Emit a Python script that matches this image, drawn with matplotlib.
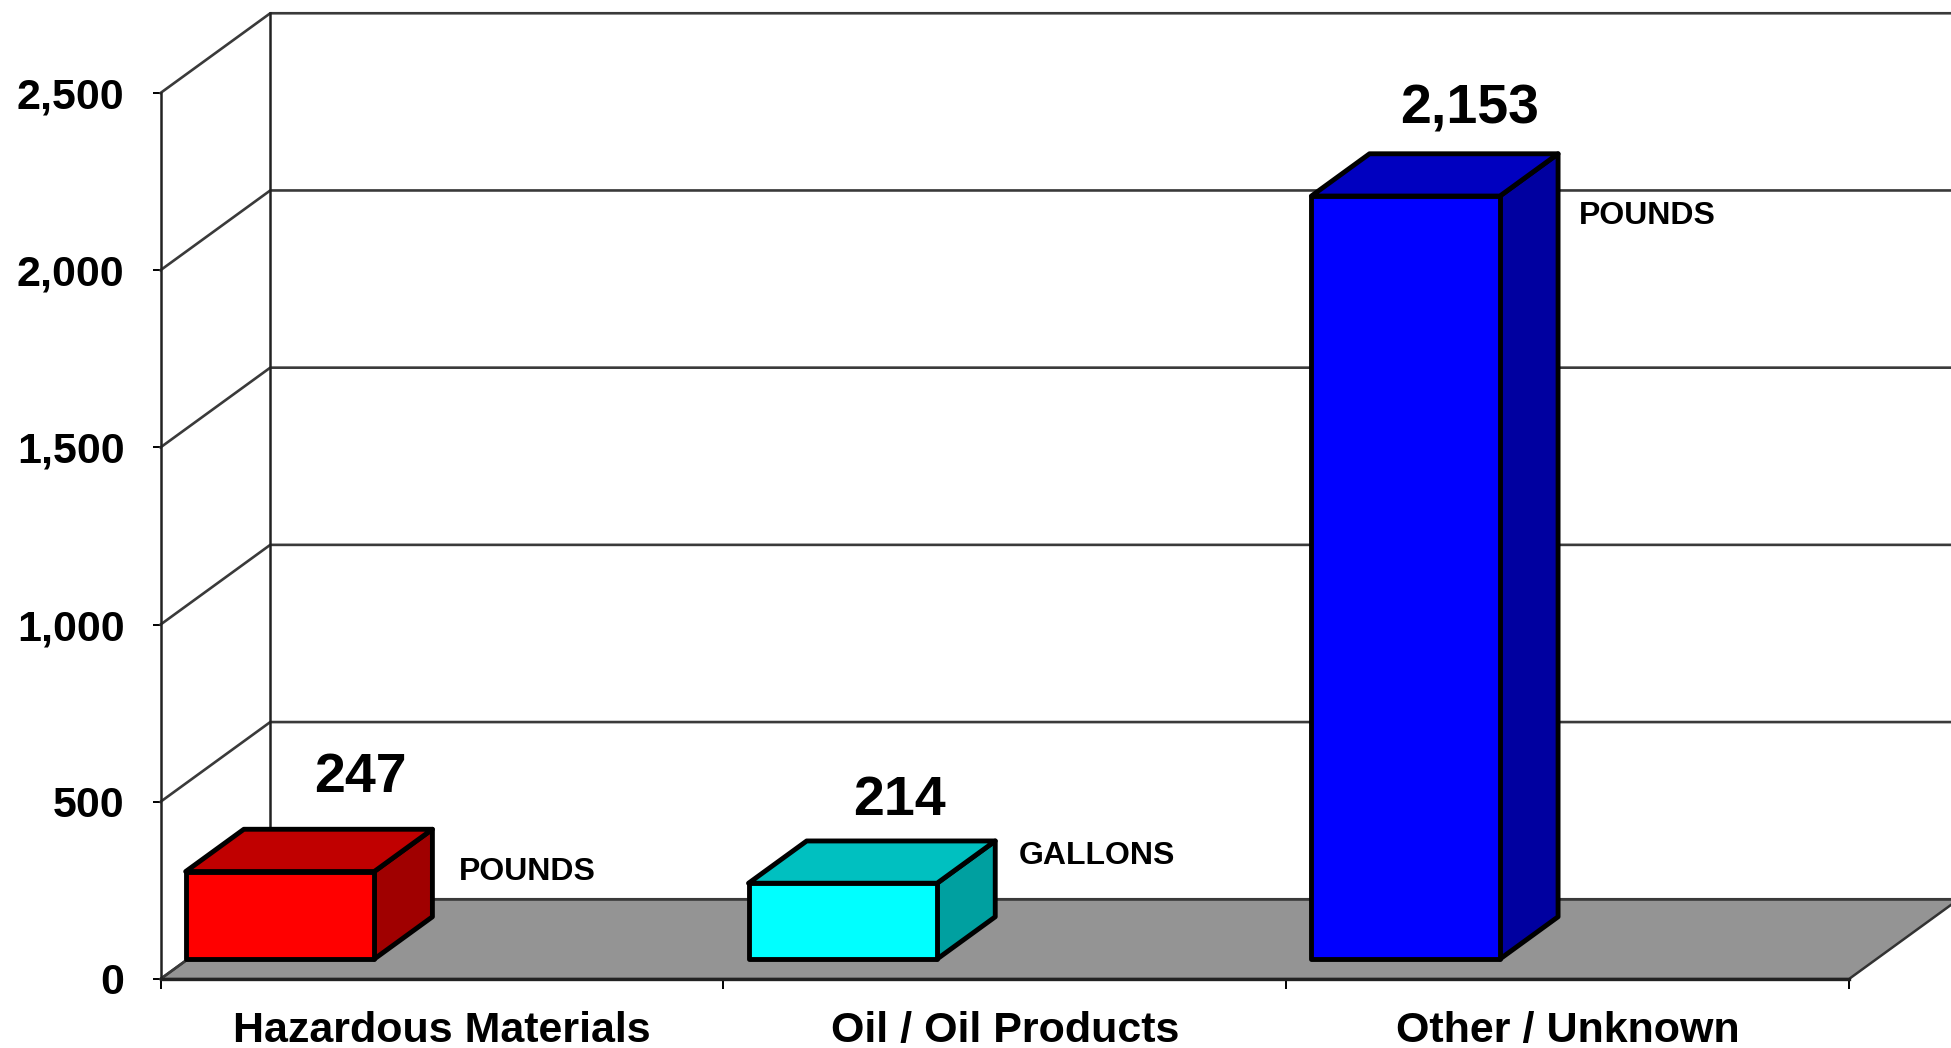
import matplotlib.pyplot as plt
from matplotlib.patches import Polygon

plt.rcParams['font.family'] = ['Liberation Sans', 'DejaVu Sans']
plt.rcParams['font.weight'] = 'bold'

categories = ['Hazardous Materials', 'Oil / Oil Products', 'Other / Unknown']
values = [247, 214, 2153]
value_labels = ['247', '214', '2,153']
units = ['POUNDS', 'GALLONS', 'POUNDS']
y_ticks = [0, 500, 1000, 1500, 2000, 2500]
y_tick_labels = ['0', '500', '1,000', '1,500', '2,000', '2,500']

front_colors = ['#ff0000', '#00ffff', '#0000ff']
top_colors = ['#c00000', '#00c0c0', '#0000c0']
side_colors = ['#a00000', '#00a0a0', '#0000a0']

# fake 3d: how far the back wall sits from the front plane, in data units
depth_x = 0.195
depth_y = 225
bar_shift = -0.004
bar_width = 0.335
bar_front = 0.25
bar_back = 0.78

# label offsets in points from the back top right corner of each bar
value_offsets = [(-52, 37), (-69, 29), (-64, 32)]
unit_offsets = [(19, -31), (17, -11), (15, -45)]


def proj(x, y, depth):
    return (x + depth * depth_x, y + depth * depth_y)


fig = plt.figure(figsize=(19.51, 10.48), dpi=100, facecolor='white')
ax = fig.add_axes([160.5 / 1951, 69 / 1048, 1688.5 / 1951, 886 / 1048])
ax.set_xlim(0, 3)
ax.set_ylim(0, 2500)
ax.patch.set_visible(False)
for name in ['top', 'right']:
    ax.spines[name].set_visible(False)
ax.spines['left'].set_linewidth(1.8)
ax.spines['bottom'].set_linewidth(2.4)
ax.spines['left'].set_color('#222222')
ax.spines['bottom'].set_color('#222222')

ax.set_yticks(y_ticks)
ax.set_yticklabels(y_tick_labels, fontsize=31, fontweight='bold')
ax.tick_params(axis='y', length=6, width=1.4, pad=20)
ax.set_xticks([0, 1, 2, 3])
ax.set_xticklabels([])
ax.tick_params(axis='x', length=7, width=1.4)
ax.set_xticks([0.5, 1.5, 2.5], minor=True)
ax.set_xticklabels(categories, minor=True, fontsize=31, fontweight='bold')
ax.tick_params(axis='x', which='minor', length=0, pad=23)

# floor
floor = [proj(0, 0, 0), proj(3, 0, 0), proj(3, 0, 1), proj(0, 0, 1)]
ax.add_patch(Polygon(floor, closed=True, facecolor='#949494', edgecolor='#333333',
                     linewidth=1.8, clip_on=False, zorder=1))

# walls
for tick in y_ticks:
    a = proj(0, tick, 0)
    b = proj(0, tick, 1)
    c = proj(3, tick, 1)
    ax.plot([a[0], b[0], c[0]], [a[1], b[1], c[1]], color='#3a3a3a', linewidth=1.9,
            clip_on=False, zorder=2)
back_bottom = proj(0, 0, 1)
back_top = proj(0, 2500, 1)
ax.plot([back_bottom[0], back_top[0]], [back_bottom[1], back_top[1]], color='#222222',
        linewidth=1.8, clip_on=False, zorder=2)

# bars
for i, val in enumerate(values):
    left = i + bar_shift
    right = left + bar_width
    front = [proj(left, 0, bar_front), proj(right, 0, bar_front),
             proj(right, val, bar_front), proj(left, val, bar_front)]
    top = [proj(left, val, bar_front), proj(right, val, bar_front),
           proj(right, val, bar_back), proj(left, val, bar_back)]
    side = [proj(right, 0, bar_front), proj(right, 0, bar_back),
            proj(right, val, bar_back), proj(right, val, bar_front)]
    for pts, col in [(side, side_colors[i]), (top, top_colors[i]), (front, front_colors[i])]:
        ax.add_patch(Polygon(pts, closed=True, facecolor=col, edgecolor='black',
                             linewidth=3.5, joinstyle='round', clip_on=False, zorder=3))

    corner = proj(right, val, bar_back)
    ax.annotate(value_labels[i], xy=corner, xytext=value_offsets[i], textcoords='offset points',
                ha='center', va='center', fontsize=40, fontweight='bold', annotation_clip=False)
    ax.annotate(units[i], xy=corner, xytext=unit_offsets[i], textcoords='offset points',
                ha='left', va='center', fontsize=23, fontweight='bold', annotation_clip=False)

fig.savefig('out.png', dpi=100)
